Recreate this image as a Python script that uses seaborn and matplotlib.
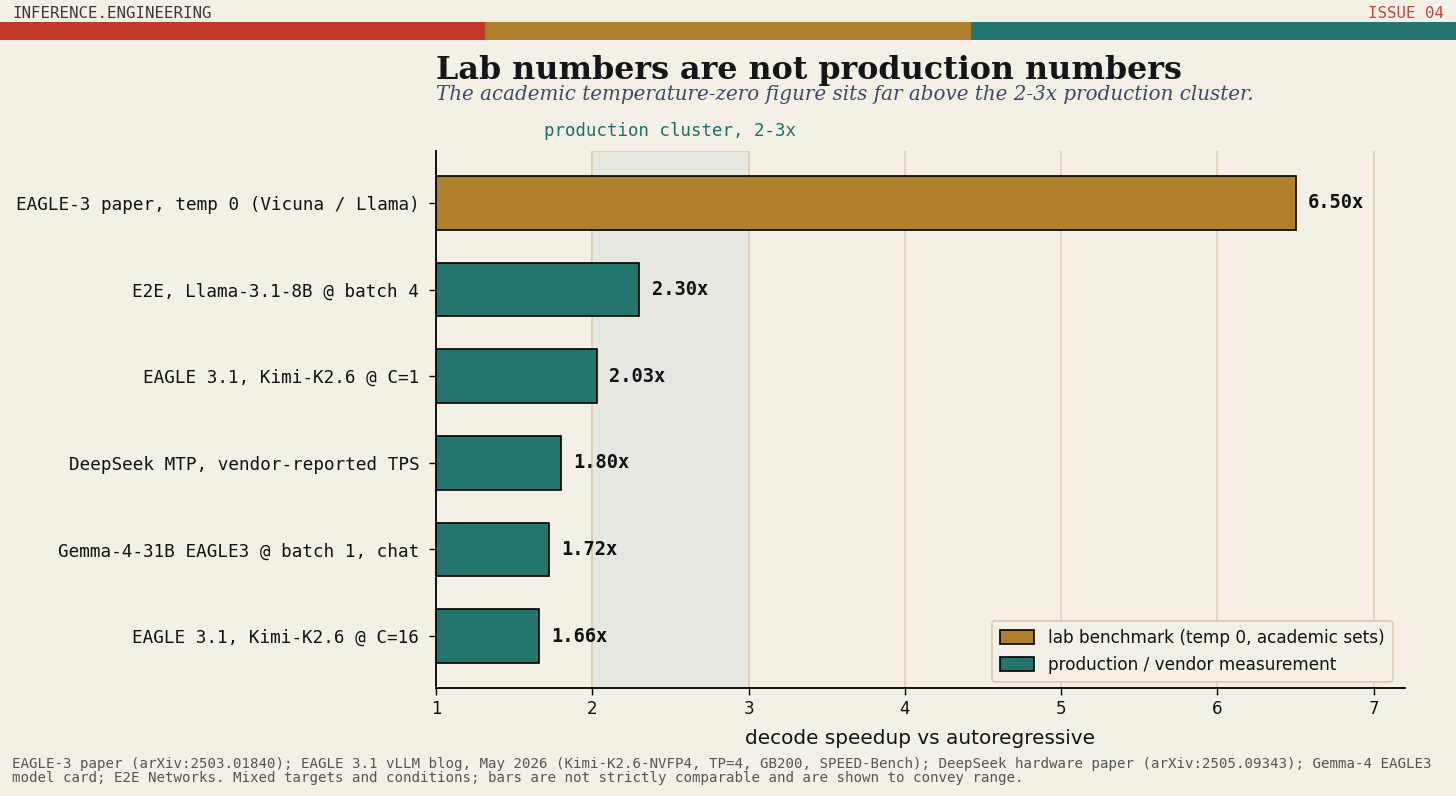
import numpy as np
import pandas as pd
import matplotlib.pyplot as plt
import seaborn as sns

labels = [
    'EAGLE-3 paper, temp 0 (Vicuna / Llama)',
    'E2E, Llama-3.1-8B @ batch 4',
    'EAGLE 3.1, Kimi-K2.6 @ C=1',
    'DeepSeek MTP, vendor-reported TPS',
    'Gemma-4-31B EAGLE3 @ batch 1, chat',
    'EAGLE 3.1, Kimi-K2.6 @ C=16',
]
speedups = [6.50, 2.30, 2.03, 1.80, 1.72, 1.66]
kinds = ['lab benchmark (temp 0, academic sets)'] + ['production / vendor measurement'] * 5
xticks = [1, 2, 3, 4, 5, 6, 7]

BG = '#f5f0e6'
GOLD = '#b0802e'
TEAL = '#23756d'
RED = '#c0392b'
MONO = 'DejaVu Sans Mono'

df = pd.DataFrame({'label': labels, 'speedup': speedups, 'kind': kinds})

sns.set_theme(style='white')
plt.rcParams['font.family'] = ['DejaVu Sans']
plt.rcParams.update({'text.color': '#111111', 'xtick.color': '#111111',
                     'ytick.color': '#111111', 'axes.labelcolor': '#111111'})

fig = plt.figure(figsize=(14.56, 7.96), dpi=100, facecolor=BG)
ax = fig.add_axes([436 / 1456, 1 - 688 / 796, (1405 - 436) / 1456, (688 - 151) / 796])
ax.set_facecolor(BG)

# production band + grid
ax.axvspan(2, 3, facecolor='#e6e7de', edgecolor='#d8ccb4', linewidth=1.2, zorder=0)
for t in xticks:
    ax.axvline(t, color='#ddd0b8', linewidth=1.2, zorder=0.5)

sns.barplot(data=df, y='label', x='speedup', hue='kind',
            palette={kinds[0]: GOLD, kinds[1]: TEAL}, dodge=False, saturation=1,
            edgecolor='black', linewidth=1.2, width=0.62, ax=ax, zorder=2)

for i, v in enumerate(speedups):
    ax.text(v + 0.08, i, f'{v:.2f}x', va='center', ha='left',
            fontfamily=MONO, fontweight='bold', fontsize=13.5, color='#111111')

ax.set_xlim(1, 7.2)
ax.set_ylim(5.6, -0.6)
ax.set_xticks(xticks)
ax.set_xticklabels([str(t) for t in xticks], fontsize=12)
ax.set_yticks(range(len(labels)))
ax.set_yticklabels(labels, fontfamily=MONO, fontsize=12.7)
ax.tick_params(axis='both', length=5, width=1, color='black', left=True, bottom=True)
ax.tick_params(axis='y', pad=7)
ax.set_ylabel('')
ax.set_xlabel('decode speedup vs autoregressive', fontsize=14.4, labelpad=8)
for s in ['top', 'right']:
    ax.spines[s].set_visible(False)
for s in ['left', 'bottom']:
    ax.spines[s].set_color('black')
    ax.spines[s].set_linewidth(1.3)

ax.text(2.5, 1.02, 'production cluster, 2-3x', transform=ax.get_xaxis_transform(),
        ha='center', va='bottom', fontfamily=MONO, fontsize=12.5, color='#1f6e66')

leg = ax.legend(loc='lower right', fontsize=12.2, frameon=True, facecolor=BG,
                edgecolor='#d8ccb4', framealpha=1, borderpad=0.5,
                handleheight=0.9, bbox_to_anchor=(0.996, -0.005))
leg.get_frame().set_linewidth(1.2)

# header
fig.text(12 / 1456, 1 - 13 / 796, 'INFERENCE.ENGINEERING', fontfamily=MONO,
         fontsize=11.3, color='#3a3a3a', va='center', ha='left')
fig.text(1444 / 1456, 1 - 13 / 796, 'ISSUE 04', fontfamily=MONO,
         fontsize=11.3, color='#b34a3c', va='center', ha='right')
for k, c in enumerate([RED, GOLD, TEAL]):
    fig.patches.append(plt.Rectangle((k / 3, 1 - 40 / 796), 1 / 3, 18 / 796,
                                     transform=fig.transFigure, facecolor=c,
                                     edgecolor='none'))

fig.text(436 / 1456, 1 - 71 / 796, 'Lab numbers are not production numbers',
         fontfamily='DejaVu Serif', fontweight='bold', fontsize=22.9,
         color='#151515', va='center', ha='left')
fig.text(436 / 1456, 1 - 94 / 796,
         'The academic temperature-zero figure sits far above the 2-3x production cluster.',
         fontfamily='DejaVu Serif', fontstyle='italic', fontsize=14.3,
         color='#3b4a6b', va='center', ha='left')

fig.text(12 / 1456, 1 - 771 / 796,
         'EAGLE-3 paper (arXiv:2503.01840); EAGLE 3.1 vLLM blog, May 2026 (Kimi-K2.6-NVFP4, TP=4, GB200, SPEED-Bench); '
         'DeepSeek hardware paper (arXiv:2505.09343); Gemma-4 EAGLE3\n'
         'model card; E2E Networks. Mixed targets and conditions; bars are not strictly comparable and are shown to convey range.',
         fontfamily=MONO, fontsize=10.2, color='#555555', va='center', ha='left',
         linespacing=1.0)

fig.savefig('out.png', dpi=100, facecolor=BG)
